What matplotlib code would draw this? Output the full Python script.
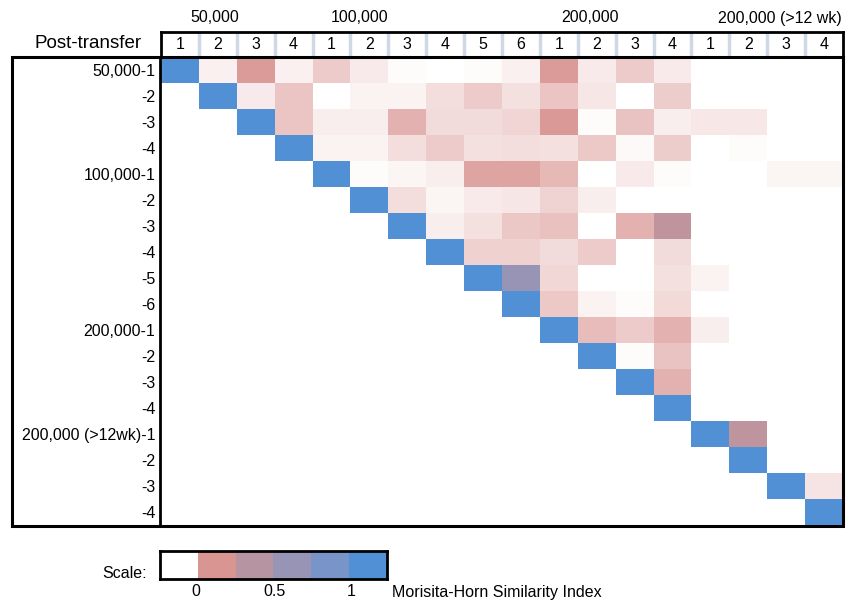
import numpy as np
import matplotlib
matplotlib.use("Agg")
import matplotlib.pyplot as plt
import matplotlib.patches as patches
from matplotlib.colors import LinearSegmentedColormap, ListedColormap

plt.rcParams['font.family'] = ['Liberation Sans', 'DejaVu Sans']

# groups of recipients (column header)
group_names = ['50,000', '100,000', '200,000', '200,000 (>12 wk)']
group_sizes = [4, 6, 4, 4]

row_labels = ['50,000-1', '-2', '-3', '-4',
              '100,000-1', '-2', '-3', '-4', '-5', '-6',
              '200,000-1', '-2', '-3', '-4',
              '200,000 (>12wk)-1', '-2', '-3', '-4']

# shade on the colour scale (0 = white, 1 = blue)
shade = [
    [1, .03, .19, .03, .10, .04, .01, 0, .01, .03, .19, .04, .10, .04, 0, 0, 0, 0],
    [0, 1, .04, .11, 0, .025, .025, .065, .10, .06, .11, .05, 0, .095, 0, 0, 0, 0],
    [0, 0, 1, .11, .035, .035, .145, .07, .07, .08, .195, .01, .115, .035, .045, .045, 0, 0],
    [0, 0, 0, 1, .025, .025, .065, .10, .06, .065, .06, .105, .013, .095, 0, .008, 0, 0],
    [0, 0, 0, 0, 1, .01, .02, .035, .175, .175, .135, 0, .04, .01, 0, 0, .023, .023],
    [0, 0, 0, 0, 0, 1, .065, .02, .04, .05, .085, .032, 0, 0, 0, 0, 0, 0],
    [0, 0, 0, 0, 0, 0, 1, .035, .06, .108, .12, 0, .147, .35, 0, 0, 0, 0],
    [0, 0, 0, 0, 0, 0, 0, 1, .087, .087, .068, .098, 0, .068, 0, 0, 0, 0],
    [0, 0, 0, 0, 0, 0, 0, 0, 1, .6, .077, 0, 0, .06, .025, 0, 0, 0],
    [0, 0, 0, 0, 0, 0, 0, 0, 0, 1, .104, .025, .011, .074, 0, 0, 0, 0],
    [0, 0, 0, 0, 0, 0, 0, 0, 0, 0, 1, .125, .098, .147, .034, 0, 0, 0],
    [0, 0, 0, 0, 0, 0, 0, 0, 0, 0, 0, 1, .011, .115, 0, 0, 0, 0],
    [0, 0, 0, 0, 0, 0, 0, 0, 0, 0, 0, 0, 1, .147, 0, 0, 0, 0],
    [0, 0, 0, 0, 0, 0, 0, 0, 0, 0, 0, 0, 0, 1, 0, 0, 0, 0],
    [0, 0, 0, 0, 0, 0, 0, 0, 0, 0, 0, 0, 0, 0, 1, .36, 0, 0],
    [0, 0, 0, 0, 0, 0, 0, 0, 0, 0, 0, 0, 0, 0, 0, 1, 0, 0],
    [0, 0, 0, 0, 0, 0, 0, 0, 0, 0, 0, 0, 0, 0, 0, 0, 1, .053],
    [0, 0, 0, 0, 0, 0, 0, 0, 0, 0, 0, 0, 0, 0, 0, 0, 0, 1],
]

scale_colors = ['#ffffff', '#d99592', '#b794a1', '#9894b5', '#7894c8', '#5290d6']
scale_ticks = ['0', '0.5', '1']

W, H = 846, 604
FS = 11.5


def fx(px):
    return px / W


def fy(py):
    return 1 - py / H


cmap = LinearSegmentedColormap.from_list('mh', list(zip(np.linspace(0, 1, 6), scale_colors)))
col_labels = [str(i + 1) for n in group_sizes for i in range(n)]
n = len(col_labels)

fig = plt.figure(figsize=(W / 100, H / 100), dpi=100)

# heatmap
x0, x1, y0, y1 = 161, 843, 57, 525
ax = fig.add_axes([fx(x0), fy(y1), fx(x1) - fx(x0), fy(y0) - fy(y1)])
ax.pcolormesh(np.arange(n + 1), np.arange(n + 1), np.array(shade), cmap=cmap, vmin=0, vmax=1)
ax.set_xlim(0, n)
ax.set_ylim(n, 0)
ax.set_xticks([])
ax.set_yticks(np.arange(n) + 0.5)
ax.set_yticklabels(row_labels, fontsize=FS)
ax.tick_params(axis='y', length=0, pad=4)
for s in ax.spines.values():
    s.set_visible(False)

# header row with column numbers
hdr = fig.add_axes([fx(x0), fy(y0), fx(x1) - fx(x0), fy(32) - fy(y0)])
hdr.set_xlim(0, n)
hdr.set_ylim(0, 1)
hdr.set_xticks([])
hdr.set_yticks([])
for k in range(1, n):
    hdr.axvline(k, color='#cfd8e6', lw=2.5)
for k, lab in enumerate(col_labels):
    hdr.text(k + 0.5, 0.5, lab, ha='center', va='center', fontsize=FS)
for s in hdr.spines.values():
    s.set_linewidth(2)
    s.set_color('black')

fig.text(fx(142), fy(44), 'Post-transfer', ha='right', va='center', fontsize=13.5)

group_x = [215, 360, 590, 780]
for name, gx in zip(group_names, group_x):
    fig.text(fx(gx), fy(18), name, ha='center', va='center', fontsize=FS)

# outer box and divider
fig.patches.append(patches.Rectangle((fx(12), fy(526)), fx(843) - fx(12), fy(57) - fy(526),
                                     transform=fig.transFigure, fill=False, lw=2.2, ec='black', zorder=5))
fig.add_artist(plt.Line2D([fx(160), fx(160)], [fy(57), fy(526)], transform=fig.transFigure,
                          color='black', lw=2, zorder=5))

# scale bar
lg = fig.add_axes([fx(160), fy(579), fx(387) - fx(160), fy(551) - fy(579)])
lg.imshow(np.arange(len(scale_colors))[None, :], cmap=ListedColormap(scale_colors), aspect='auto')
lg.set_xticks([])
lg.set_yticks([])
for s in lg.spines.values():
    s.set_linewidth(2)
fig.text(fx(147), fy(573), 'Scale:', ha='right', va='center', fontsize=FS)
for lab, px in zip(scale_ticks, [196, 274, 351]):
    fig.text(fx(px), fy(592), lab, ha='center', va='center', fontsize=FS)
fig.text(fx(392), fy(592), 'Morisita-Horn Similarity Index', ha='left', va='center', fontsize=FS)

fig.savefig('out.png', dpi=100)
